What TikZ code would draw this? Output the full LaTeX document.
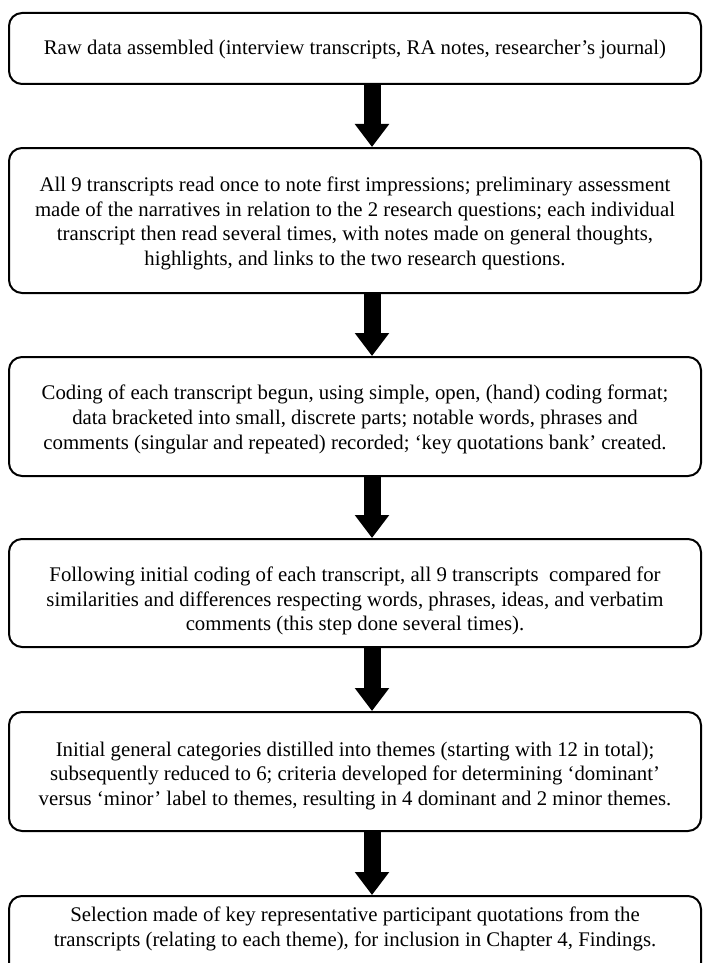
\documentclass[tikz,border=0pt]{standalone}
\usepackage{fontspec}
\setmainfont{Liberation Serif}
\usetikzlibrary{arrows.meta}
\begin{document}
\begin{tikzpicture}[x=1pt,y=-1pt,
  stage/.style={draw=black, line width=2pt, rounded corners=13pt, minimum width=692pt, inner sep=0pt},
  stagetext/.style={align=center, inner sep=0pt, text=black, font=\fontsize{20.8}{24.6}\selectfont},
  flow/.style={draw=black, line width=17pt, -{Triangle[length=23pt 0 0, width=33pt 0]}}]
\path[use as bounding box, clip] (0,0) rectangle (703,963);
\coordinate (ax) at (372,0);
\node[stage, minimum height=71pt] (s1) at (355,48.5) {};
\node[stagetext] (t1) at (355,49) {Raw data assembled (interview transcripts, RA notes, researcher’s journal)};
\node[stage, minimum height=145pt] (s2) at (355,220.5) {};
\node[stagetext] (t2) at (355,223.5) {All 9 transcripts read once to note first impressions; preliminary assessment\\ made of the narratives in relation to the 2 research questions; each individual\\ transcript then read several times, with notes made on general thoughts,\\ highlights, and links to the two research questions.};
\node[stage, minimum height=119pt] (s3) at (355,416.5) {};
\node[stagetext] (t3) at (355,419.5) {Coding of each transcript begun, using simple, open, (hand) coding format;\\ data bracketed into small, discrete parts; notable words, phrases and\\ comments (singular and repeated) recorded; ‘key quotations bank’ created.};
\node[stage, minimum height=108pt] (s4) at (355,593) {};
\node[stagetext] (t4) at (355,601) {Following initial coding of each transcript, all 9 transcripts\ \ compared for\\ similarities and differences respecting words, phrases, ideas, and verbatim\\ comments (this step done several times).};
\node[stage, minimum height=119pt] (s5) at (355,771.5) {};
\node[stagetext] (t5) at (355,776) {Initial general categories distilled into themes (starting with 12 in total);\\ subsequently reduced to 6; criteria developed for determining ‘dominant’\\ versus ‘minor’ label to themes, resulting in 4 dominant and 2 minor themes.};
\node[stage, minimum height=80pt] (s6) at (355,936) {};
\node[stagetext] (t6) at (355,929) {Selection made of key representative participant quotations from the\\ transcripts (relating to each theme), for inclusion in Chapter 4, Findings.};
\draw[flow] (s1.south -| ax) -- (s2.north -| ax);
\draw[flow] (s2.south -| ax) -- (s3.north -| ax);
\draw[flow] (s3.south -| ax) -- (s4.north -| ax);
\draw[flow] (s4.south -| ax) -- (s5.north -| ax);
\draw[flow] (s5.south -| ax) -- (s6.north -| ax);
\end{tikzpicture}
\end{document}
